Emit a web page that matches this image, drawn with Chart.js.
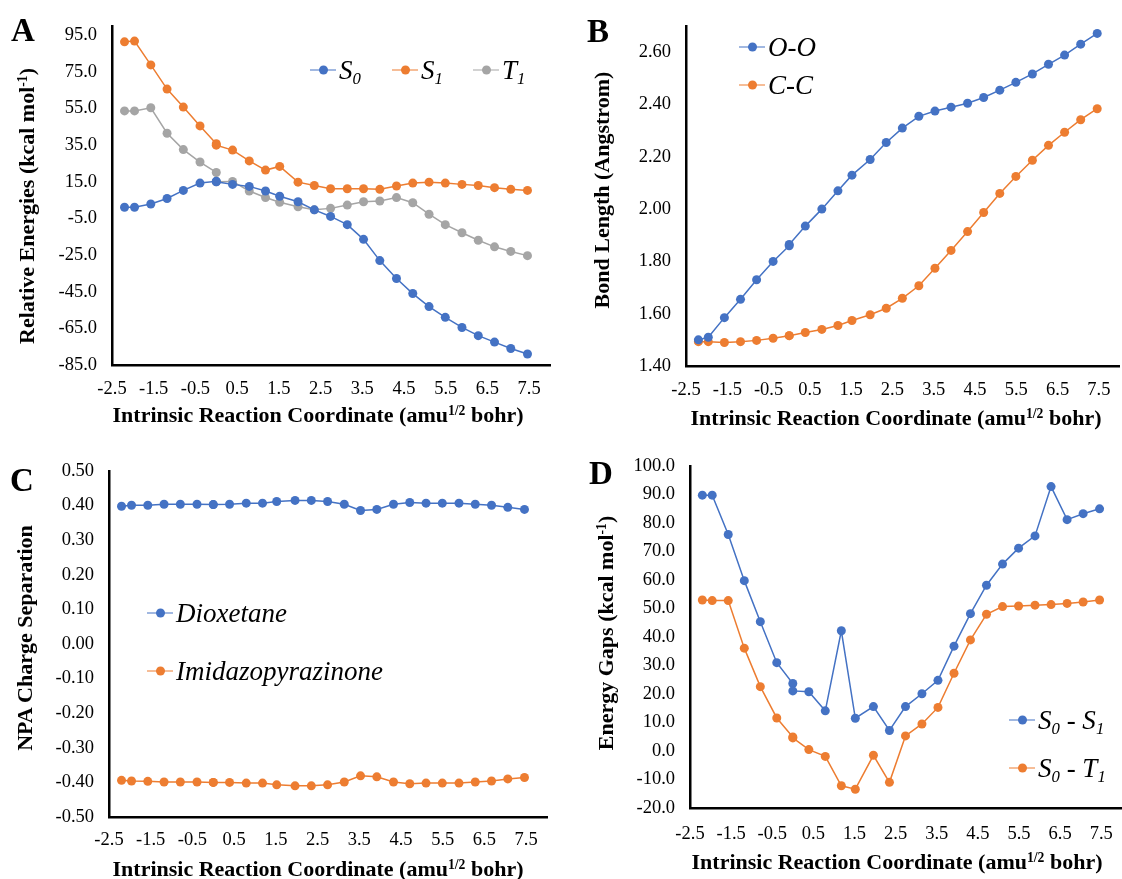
<!DOCTYPE html>
<html>
<head>
<meta charset="utf-8">
<script src="https://cdn.jsdelivr.net/npm/chart.js@4"></script>
<style>
html, body { margin: 0; padding: 0; background: #fff; width: 1122px; height: 879px; overflow: hidden; }
canvas { position: absolute; }
.t { position: absolute; font-family: 'Liberation Serif', serif; color: #000; white-space: nowrap; }
.letter { font-weight: bold; font-size: 33px; line-height: 1; }
.xt { font-weight: bold; font-size: 22px; line-height: 1; transform: translate(-50%, -50%); }
.yt { font-weight: bold; font-size: 22px; line-height: 1; transform: translate(-50%, -50%) rotate(-90deg); }
sup { font-size: 0.62em; vertical-align: 0.55em; line-height: 0; }
.leg { font-style: italic; font-size: 27px; line-height: 1; display: flex; align-items: center; transform: translateY(-50%); }
.leg sub { font-size: 0.62em; vertical-align: -0.3em; line-height: 0; }
.sym { display: inline-block; width: 26px; height: 1.5px; position: relative; margin-right: 3px; }
.sym::after { content: ''; position: absolute; left: 9px; top: -3.75px; width: 9px; height: 9px; border-radius: 50%; background: inherit; }
</style>
</head>
<body>
<canvas id="chartA" width="560" height="440" style="left:0;top:0"></canvas>
<canvas id="chartB" width="563" height="440" style="left:561px;top:0"></canvas>
<canvas id="chartC" width="560" height="439" style="left:0;top:440px"></canvas>
<canvas id="chartD" width="567" height="439" style="left:561px;top:440px"></canvas>

<div class="t letter" style="left:11px;top:14px">A</div>
<div class="t letter" style="left:587px;top:15px">B</div>
<div class="t letter" style="left:10px;top:464px">C</div>
<div class="t letter" style="left:589px;top:457px">D</div>

<div class="t yt" style="left:27px;top:206px">Relative Energies (kcal mol<sup>-1</sup>)</div>
<div class="t yt" style="left:602px;top:190px">Bond Length (Angstrom)</div>
<div class="t yt" style="left:25px;top:638px">NPA Charge Separation</div>
<div class="t yt" style="left:606px;top:633px">Energy Gaps (kcal mol<sup>-1</sup>)</div>

<div class="t xt" style="left:318px;top:415px">Intrinsic Reaction Coordinate (amu<sup>1/2</sup> bohr)</div>
<div class="t xt" style="left:896px;top:418px">Intrinsic Reaction Coordinate (amu<sup>1/2</sup> bohr)</div>
<div class="t xt" style="left:318px;top:869px">Intrinsic Reaction Coordinate (amu<sup>1/2</sup> bohr)</div>
<div class="t xt" style="left:897px;top:862px">Intrinsic Reaction Coordinate (amu<sup>1/2</sup> bohr)</div>

<div class="t leg" style="left:310px;top:70px"><span class="sym" style="background:#4472C4"></span><span>S<sub>0</sub></span></div>
<div class="t leg" style="left:392px;top:70px"><span class="sym" style="background:#ED7D31"></span><span>S<sub>1</sub></span></div>
<div class="t leg" style="left:473px;top:70px"><span class="sym" style="background:#A5A5A5"></span><span>T<sub>1</sub></span></div>

<div class="t leg" style="left:739px;top:47px"><span class="sym" style="background:#4472C4"></span><span>O-O</span></div>
<div class="t leg" style="left:739px;top:85px"><span class="sym" style="background:#ED7D31"></span><span>C-C</span></div>

<div class="t leg" style="left:147px;top:613px"><span class="sym" style="background:#4472C4"></span><span>Dioxetane</span></div>
<div class="t leg" style="left:147px;top:671px"><span class="sym" style="background:#ED7D31"></span><span>Imidazopyrazinone</span></div>

<div class="t leg" style="left:1009px;top:720px"><span class="sym" style="background:#4472C4"></span><span>S<sub>0</sub> - S<sub>1</sub></span></div>
<div class="t leg" style="left:1009px;top:768px"><span class="sym" style="background:#ED7D31"></span><span>S<sub>0</sub> - T<sub>1</sub></span></div>

<script>
// IRC coordinate of each computed point (two points sit at the TS, x = 0)
const irc = [-2.2, -1.96, -1.57, -1.18, -0.79, -0.39, 0.0, 0.0, 0.39, 0.79, 1.18, 1.52, 1.96, 2.35,
    2.74, 3.14, 3.53, 3.92, 4.32, 4.71, 5.1, 5.49, 5.89, 6.28, 6.67, 7.06, 7.46];

// A: relative energies (kcal/mol)
const s0 = [1.1, 1.1, 2.9, 5.9, 10.3, 14.3, 15.3, 15.0, 13.6, 12.5, 10.0, 7.1, 4.1, -0.3,
    -3.9, -8.4, -16.4, -28.0, -37.8, -46.0, -53.1, -59.0, -64.5, -69.0, -72.5, -76.0, -79.0];
const s1 = [91.4, 91.8, 78.8, 65.6, 55.8, 45.5, 35.8, 35.0, 32.3, 26.4, 21.4, 23.4, 14.8, 13.0,
    11.2, 11.2, 11.2, 10.9, 12.7, 14.3, 14.8, 14.3, 13.6, 13.0, 11.8, 10.9, 10.3];
const t1 = [53.7, 53.7, 55.4, 41.5, 32.6, 25.8, 20.1, 15.0, 15.2, 10.0, 6.4, 3.8, 1.4, -0.3,
    0.5, 2.3, 4.1, 4.5, 6.4, 3.6, -2.7, -8.4, -12.8, -16.9, -20.5, -23.0, -25.3];

// B: bond lengths (Angstrom)
const oo = [1.50, 1.51, 1.585, 1.655, 1.73, 1.80, 1.86, 1.865, 1.935, 2.00, 2.07, 2.13, 2.19, 2.255,
    2.31, 2.355, 2.375, 2.39, 2.405, 2.427, 2.455, 2.485, 2.517, 2.554, 2.589, 2.631, 2.672];
const cc = [1.493, 1.493, 1.49, 1.493, 1.498, 1.506, 1.516, 1.516, 1.528, 1.54, 1.555, 1.574, 1.596, 1.621,
    1.659, 1.707, 1.774, 1.842, 1.914, 1.987, 2.06, 2.125, 2.187, 2.244, 2.294, 2.342, 2.384];

// C: NPA charge separation
const dioxetane = [0.398, 0.401, 0.401, 0.404, 0.404, 0.404, 0.403, 0.403, 0.404, 0.407, 0.407, 0.412, 0.415, 0.415,
    0.412, 0.404, 0.386, 0.389, 0.404, 0.409, 0.407, 0.407, 0.407, 0.404, 0.401, 0.395, 0.389];
const imidazo = [-0.394, -0.396, -0.397, -0.399, -0.399, -0.399, -0.400, -0.400, -0.400, -0.402, -0.402, -0.407, -0.410, -0.410,
    -0.407, -0.399, -0.381, -0.384, -0.399, -0.404, -0.402, -0.402, -0.402, -0.399, -0.396, -0.390, -0.386];

// D: energy gaps (kcal/mol)
const gapS1 = [89.8, 89.8, 76.0, 59.8, 45.4, 31.0, 23.7, 21.1, 20.8, 14.1, 42.2, 11.5, 15.6, 7.2,
    15.6, 20.1, 24.8, 36.8, 48.2, 58.2, 65.6, 71.2, 75.5, 92.8, 81.2, 83.3, 85.0];
const gapT1 = [53.0, 52.8, 52.8, 36.1, 22.6, 11.6, 4.9, 4.6, 0.5, -1.9, -12.2, -13.4, -1.5, -11.0,
    5.3, 9.5, 15.3, 27.3, 39.0, 48.0, 50.7, 50.9, 51.2, 51.4, 51.8, 52.3, 53.0];

// tick labels
const xTicks = [-2.5, -1.5, -0.5, 0.5, 1.5, 2.5, 3.5, 4.5, 5.5, 6.5, 7.5];
const energyTicks = [-85, -65, -45, -25, -5, 15, 35, 55, 75, 95];
const bondTicks = [1.4, 1.6, 1.8, 2.0, 2.2, 2.4, 2.6];
const chargeTicks = [-0.5, -0.4, -0.3, -0.2, -0.1, 0, 0.1, 0.2, 0.3, 0.4, 0.5];
const gapTicks = [-20, -10, 0, 10, 20, 30, 40, 50, 60, 70, 80, 90, 100];

const BLUE = "#4472C4", ORANGE = "#ED7D31", GREY = "#A5A5A5";

Chart.defaults.font.family = "'Liberation Serif', serif";
Chart.defaults.font.size = 18.5;
Chart.defaults.color = "#000";

function series(values, color) {
    return {
        data: values.map((v, i) => ({ x: irc[i], y: v })),
        showLine: true,
        borderColor: color,
        backgroundColor: color,
        borderWidth: 1.5,
        pointRadius: 4.5,
        pointBorderWidth: 0,
        pointHoverRadius: 4.5,
    };
}

function makeChart(id, datasets, o) {
    new Chart(document.getElementById(id), {
        type: "scatter",
        data: { datasets },
        options: {
            responsive: false,
            animation: false,
            events: [],
            layout: { padding: { top: o.padTop, right: o.padRight, left: 0, bottom: 0 } },
            plugins: { legend: { display: false }, tooltip: { enabled: false } },
            scales: {
                x: {
                    type: "linear",
                    min: -2.5,
                    max: 8,
                    grid: { display: false, drawTicks: false },
                    border: { display: true, color: "#000", width: 2.5 },
                    afterBuildTicks: (s) => { s.ticks = xTicks.map((v) => ({ value: v })); },
                    afterFit: (s) => { s.height = o.xh; },
                    ticks: { padding: o.xpad, maxRotation: 0, autoSkip: false, callback: (v) => v.toFixed(1) },
                },
                y: {
                    type: "linear",
                    min: o.min,
                    max: o.max,
                    grid: { display: false, drawTicks: false },
                    border: { display: true, color: "#000", width: 2.5 },
                    afterBuildTicks: (s) => { s.ticks = o.ticks.map((v) => ({ value: v })); },
                    afterFit: (s) => { s.width = o.yw; },
                    ticks: { padding: 15, autoSkip: false, callback: (v) => v.toFixed(o.dec) },
                },
            },
        },
    });
}

makeChart("chartA", [series(s0, BLUE), series(s1, ORANGE), series(t1, GREY)],
    { min: -85, max: 100, ticks: energyTicks, dec: 1, yw: 112, xh: 75, padTop: 19, padRight: 10, xpad: 13 });
makeChart("chartB", [series(oo, BLUE), series(cc, ORANGE)],
    { min: 1.4, max: 2.7, ticks: bondTicks, dec: 2, yw: 125, xh: 74, padTop: 20, padRight: 0, xpad: 13 });
makeChart("chartC", [series(dioxetane, BLUE), series(imidazo, ORANGE)],
    { min: -0.5, max: 0.5, ticks: chargeTicks, dec: 2, yw: 109, xh: 62, padTop: 31, padRight: 13, xpad: 12 });
makeChart("chartD", [series(gapS1, BLUE), series(gapT1, ORANGE)],
    { min: -20, max: 100, ticks: gapTicks, dec: 1, yw: 129, xh: 71, padTop: 25, padRight: 0, xpad: 15 });
</script>
</body>
</html>
